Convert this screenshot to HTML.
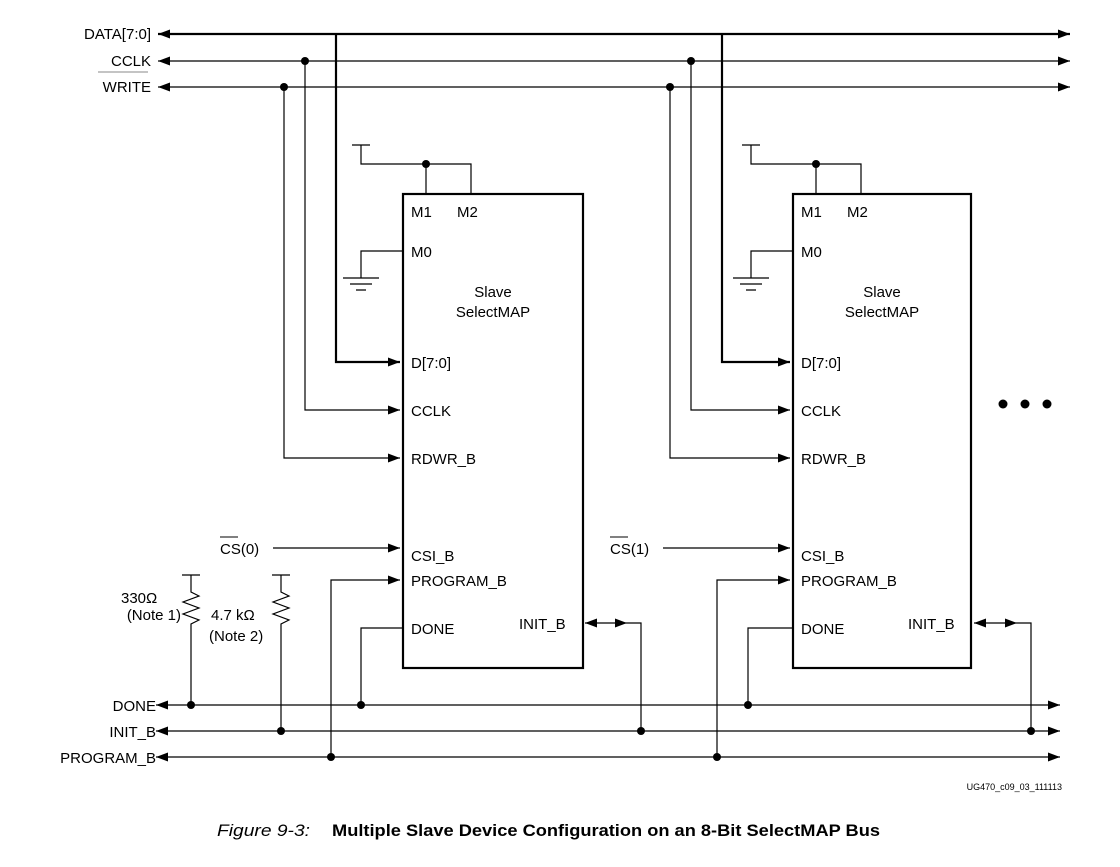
<!DOCTYPE html>
<html><head><meta charset="utf-8"><style>
body{margin:0;background:#fff;}
svg text{font-family:"Liberation Sans",Arial,sans-serif;fill:#000;}
</style></head><body>
<svg width="1120" height="862" viewBox="0 0 1120 862" xmlns="http://www.w3.org/2000/svg">
<defs>
<marker id="a" markerWidth="12" markerHeight="9" refX="12" refY="4.5" orient="auto" markerUnits="userSpaceOnUse"><path d="M0,0 L12,4.5 L0,9 z" fill="#000"/></marker>
<marker id="as" markerWidth="12" markerHeight="9" refX="0" refY="4.5" orient="auto" markerUnits="userSpaceOnUse"><path d="M12,0 L0,4.5 L12,9 z" fill="#000"/></marker>
</defs>
<g stroke="#000" fill="none">
<line x1="158" y1="34" x2="1070" y2="34" stroke-width="2.2" marker-start="url(#as)" marker-end="url(#a)"/>
<line x1="158" y1="61" x2="1070" y2="61" stroke-width="1.3" marker-start="url(#as)" marker-end="url(#a)"/>
<line x1="158" y1="87" x2="1070" y2="87" stroke-width="1.3" marker-start="url(#as)" marker-end="url(#a)"/>
<line x1="156" y1="705" x2="1060" y2="705" stroke-width="1.3" marker-start="url(#as)" marker-end="url(#a)"/>
<line x1="156" y1="731" x2="1060" y2="731" stroke-width="1.3" marker-start="url(#as)" marker-end="url(#a)"/>
<line x1="156" y1="757" x2="1060" y2="757" stroke-width="1.3" marker-start="url(#as)" marker-end="url(#a)"/>
<path d="M182,575 H200 M191,575 V592 l8,4 l-16,6 l16,6 l-16,6 l16,6 l-8,4 V705" stroke-width="1.2"/>
<path d="M272,575 H290 M281,575 V592 l8,4 l-16,6 l16,6 l-16,6 l16,6 l-8,4 V731" stroke-width="1.2"/>
</g>
<g fill="#000"><circle cx="191" cy="705" r="4"/><circle cx="281" cy="731" r="4"/></g>

<g>
<g stroke="#000" fill="none">
<path d="M336,34 V362 H400" stroke-width="2.2" marker-end="url(#a)"/>
<path d="M305,61 V410 H400" stroke-width="1.2" marker-end="url(#a)"/>
<path d="M284,87 V458 H400" stroke-width="1.2" marker-end="url(#a)"/>
<path d="M273,548 H400" stroke-width="1.2" marker-end="url(#a)"/>
<path d="M331,757 V580 H400" stroke-width="1.2" marker-end="url(#a)"/>
<path d="M403,628 H361 V705" stroke-width="1.2"/>
<path d="M585,623 H627" stroke-width="1.2" marker-start="url(#as)" marker-end="url(#a)"/>
<path d="M627,623 H641 V731" stroke-width="1.2"/>
<path d="M352,145 H370 M361,145 V164 H471 V194 M426,164 V194" stroke-width="1.2"/>
<path d="M403,251 H361 V278 M343,278 H379 M350,284 H372 M356,290 H366" stroke-width="1.2"/>
<rect x="403" y="194" width="180" height="474" stroke-width="2.2"/>
</g>
<g fill="#000"><circle cx="305" cy="61" r="4"/><circle cx="284" cy="87" r="4"/><circle cx="426" cy="164" r="4"/><circle cx="361" cy="705" r="4"/><circle cx="641" cy="731" r="4"/><circle cx="331" cy="757" r="4"/></g>
<g font-size="15">
<text x="411" y="217">M1</text><text x="457" y="217">M2</text><text x="411" y="257">M0</text>
<text x="493" y="297" text-anchor="middle">Slave</text><text x="493" y="317" text-anchor="middle">SelectMAP</text>
<text x="411" y="368">D[7:0]</text><text x="411" y="416">CCLK</text><text x="411" y="464">RDWR_B</text>
<text x="411" y="561">CSI_B</text><text x="411" y="586">PROGRAM_B</text><text x="411" y="634">DONE</text><text x="519" y="629">INIT_B</text>
<text x="220" y="554">CS(0)</text>
</g>
<line x1="220" y1="537" x2="238" y2="537" stroke="#000" stroke-width="1"/>
</g>

<g transform="translate(388,0)">
<g stroke="#000" fill="none">
<path d="M334,34 V362 H402" stroke-width="2.2" marker-end="url(#a)"/>
<path d="M303,61 V410 H402" stroke-width="1.2" marker-end="url(#a)"/>
<path d="M282,87 V458 H402" stroke-width="1.2" marker-end="url(#a)"/>
<path d="M275,548 H402" stroke-width="1.2" marker-end="url(#a)"/>
<path d="M329,757 V580 H402" stroke-width="1.2" marker-end="url(#a)"/>
<path d="M405,628 H360 V705" stroke-width="1.2"/>
<path d="M586,623 H629" stroke-width="1.2" marker-start="url(#as)" marker-end="url(#a)"/>
<path d="M629,623 H643 V731" stroke-width="1.2"/>
<path d="M354,145 H372 M363,145 V164 H473 V194 M428,164 V194" stroke-width="1.2"/>
<path d="M405,251 H363 V278 M345,278 H381 M352,284 H374 M358,290 H368" stroke-width="1.2"/>
<rect x="405" y="194" width="178" height="474" stroke-width="2.2"/>
</g>
<g fill="#000"><circle cx="303" cy="61" r="4"/><circle cx="282" cy="87" r="4"/><circle cx="428" cy="164" r="4"/><circle cx="360" cy="705" r="4"/><circle cx="643" cy="731" r="4"/><circle cx="329" cy="757" r="4"/></g>
<g font-size="15">
<text x="413" y="217">M1</text><text x="459" y="217">M2</text><text x="413" y="257">M0</text>
<text x="494" y="297" text-anchor="middle">Slave</text><text x="494" y="317" text-anchor="middle">SelectMAP</text>
<text x="413" y="368">D[7:0]</text><text x="413" y="416">CCLK</text><text x="413" y="464">RDWR_B</text>
<text x="413" y="561">CSI_B</text><text x="413" y="586">PROGRAM_B</text><text x="413" y="634">DONE</text><text x="520" y="629">INIT_B</text>
<text x="222" y="554">CS(1)</text>
</g>
<line x1="222" y1="537" x2="240" y2="537" stroke="#000" stroke-width="1"/>
</g>

<g fill="#000"><circle cx="1003" cy="404" r="4.5"/><circle cx="1025" cy="404" r="4.5"/><circle cx="1047" cy="404" r="4.5"/></g>

<g font-size="15">
<text x="151" y="39" text-anchor="end">DATA[7:0]</text>
<text x="151" y="66" text-anchor="end">CCLK</text>
<text x="151" y="92" text-anchor="end">WRITE</text>
<text x="156" y="711" text-anchor="end">DONE</text>
<text x="156" y="737" text-anchor="end">INIT_B</text>
<text x="156" y="763" text-anchor="end">PROGRAM_B</text>
<text x="121" y="603">330Ω</text>
<text x="181" y="620" text-anchor="end">(Note 1)</text>
<text x="211" y="620">4.7 kΩ</text>
<text x="209" y="641">(Note 2)</text>
</g>
<line x1="98" y1="72" x2="148" y2="72" stroke="#888" stroke-width="1"/>
<text x="1062" y="790" font-size="9" text-anchor="end">UG470_c09_03_111113</text>
<text x="217" y="836" font-size="17" font-style="italic" textLength="93" lengthAdjust="spacingAndGlyphs">Figure 9-3:</text>
<text x="332" y="836" font-size="17" font-weight="bold" textLength="548" lengthAdjust="spacingAndGlyphs">Multiple Slave Device Configuration on an 8-Bit SelectMAP Bus</text>
</svg>
</body></html>
